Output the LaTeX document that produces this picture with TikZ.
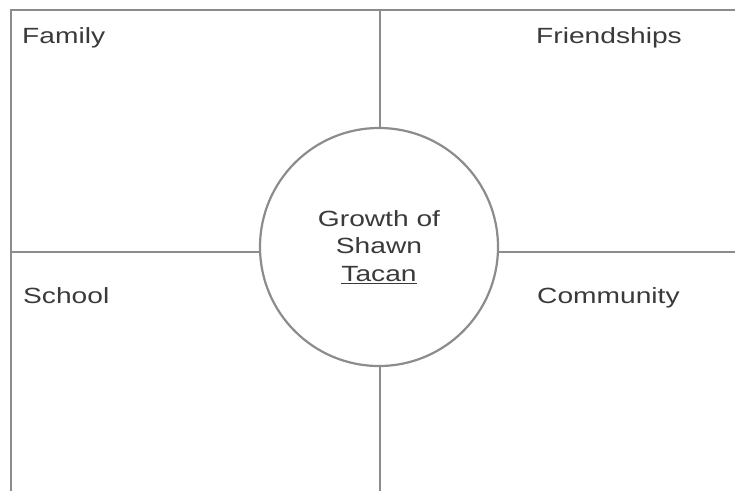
\documentclass[tikz,border=0pt]{standalone}
\usepackage{fontspec}
\setmainfont{Liberation Sans}[FakeStretch=1.28]
\usetikzlibrary{positioning}
\definecolor{linegray}{HTML}{8C8C8C}
\definecolor{textgray}{HTML}{3A3A3A}

\begin{document}
\begin{tikzpicture}[
    x=1pt, y=-1pt,
    every node/.style={align=center, inner sep=0pt},
    area/.style={anchor=base west, text=textgray, font=\fontsize{22}{27.5}\selectfont},
    hub/.style={circle, draw=linegray, fill=white, line width=2.2pt, minimum size=238pt, text=textgray, font=\fontsize{22}{27.5}\selectfont},
    rule/.style={draw=linegray, line width=2.4pt}
]
\useasboundingbox (0,0) rectangle (735,490);
\clip (0,0) rectangle (735,490);

% Frame and cross
\coordinate (nw) at (11,10);
\coordinate (se) at (760,515);
\coordinate (top) at (380,10);
\coordinate (bottom) at (380,515);
\coordinate (left) at (11,252);
\coordinate (right) at (760,252);
\draw[rule] (nw) rectangle (se);
\draw[rule] (top) -- (bottom);
\draw[rule] (left) -- (right);

% Nodes
\node[hub] (growth) at (379,247) {Growth of\\Shawn\\\underline{Tacan}};
\node[area] (family) at (22,43) {Family};
\node[area] (friends) at (536,43) {Friendships};
\node[area] (school) at (23,303) {School};
\node[area] (community) at (537,303) {Community};

\end{tikzpicture}
\end{document}
